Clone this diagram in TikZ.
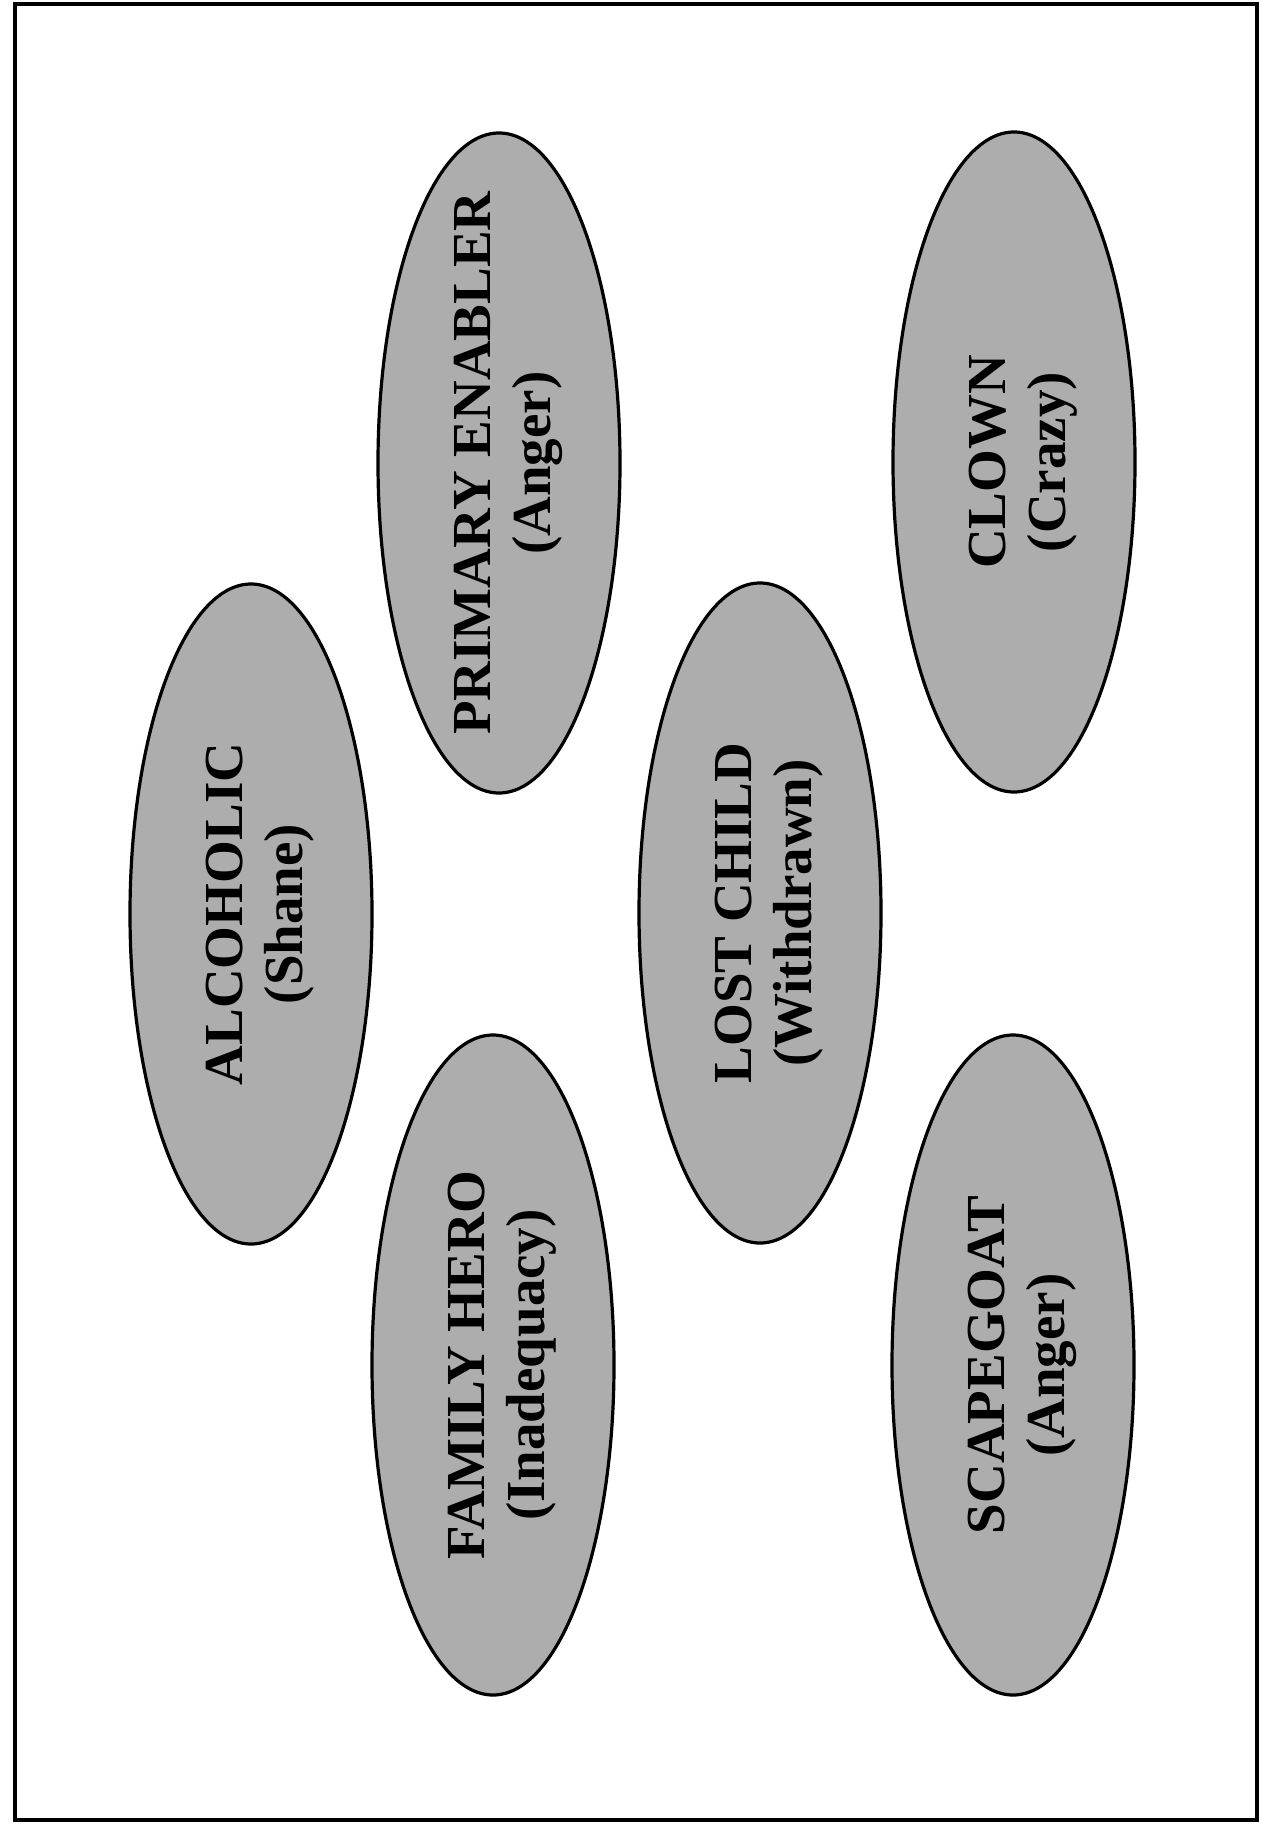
\documentclass[tikz,border=0pt]{standalone}
\usepackage{fontspec}
\setmainfont{Liberation Serif}
\usetikzlibrary{shapes.geometric}
\tikzset{
	role/.style={ellipse,draw,line width=1.6pt,fill=black!32,minimum width=121pt,minimum height=330pt,inner sep=0pt},
	rolename/.style={rotate=90,align=center,inner sep=0pt,font=\bfseries\fontsize{27.5}{30}\selectfont},
	frame/.style={draw,line width=1.6pt}
}
\begin{document}
\begin{tikzpicture}[x=0.5pt,y=-0.5pt]
	\useasboundingbox (0,0) rectangle (1262,1824);
	\draw [frame] (15,4) rectangle (1257,1820);

	\node [role] (alcoholic) at (251,914) {};
	\node [role] (enabler) at (499,463) {};
	\node [role] (hero) at (493,1365) {};
	\node [role] (lost) at (760,913) {};
	\node [role] (clown) at (1014,462) {};
	\node [role] (scapegoat) at (1013,1365) {};

	\node [rolename] (alcoholic-t) at ([xshift=4.5pt]alcoholic.center) {ALCOHOLIC\\(Shane)};
	\node [rolename] (enabler-t) at ([xshift=4.5pt]enabler.center) {PRIMARY ENABLER\\(Anger)};
	\node [rolename] (hero-t) at ([xshift=4.5pt]hero.center) {FAMILY HERO\\(Inadequacy)};
	\node [rolename] (lost-t) at ([xshift=4.5pt]lost.center) {LOST CHILD\\(Withdrawn)};
	\node [rolename] (clown-t) at ([xshift=4.5pt]clown.center) {CLOWN\\(Crazy)};
	\node [rolename] (scapegoat-t) at ([xshift=4.5pt]scapegoat.center) {SCAPEGOAT\\(Anger)};
\end{tikzpicture}
\end{document}
